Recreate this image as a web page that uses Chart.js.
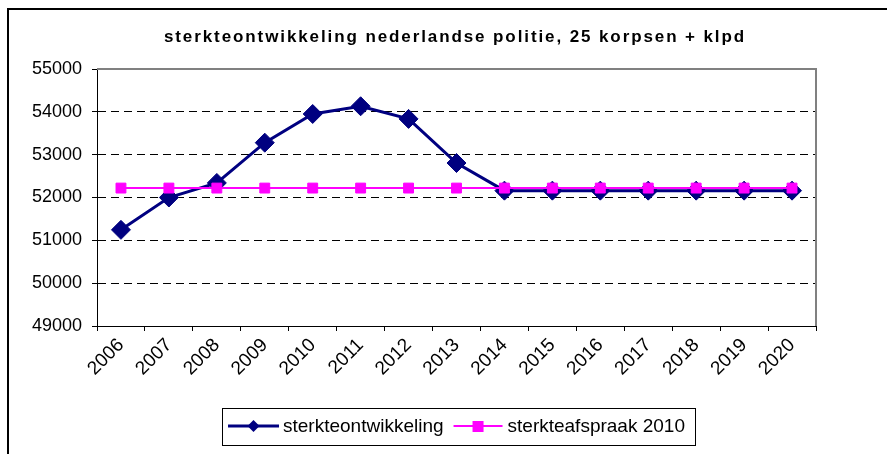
<!DOCTYPE html>
<html>
<head>
<meta charset="utf-8">
<script src="https://cdn.jsdelivr.net/npm/chart.js@4.4.1/dist/chart.umd.min.js"></script>
<style>
  html, body { margin: 0; padding: 0; background: #fff; }
  #wrap { position: relative; width: 887px; height: 454px; overflow: hidden; }
  #frame { position: absolute; left: 7px; top: 8px; width: 920px; height: 500px;
           border-left: 2px solid #000; border-top: 2px solid #000; }
  canvas { position: absolute; left: 0; top: 0; }
</style>
</head>
<body>
<div id="wrap">
  <div id="frame"></div>
  <canvas id="sterkteChart" width="887" height="454"></canvas>
</div>
<script>
// jaren (categorieën)
const jaren = ['2006', '2007', '2008', '2009', '2010', '2011', '2012', '2013',
               '2014', '2015', '2016', '2017', '2018', '2019', '2020'];
// sterkteontwikkeling
const sterkteontwikkeling = [51245, 52000, 52340, 53280, 53950, 54130, 53835, 52805,
                             52160, 52160, 52160, 52160, 52160, 52160, 52160];
// sterkteafspraak 2010
const sterkteafspraak = [52220, 52220, 52220, 52220, 52220, 52220, 52220, 52220,
                         52220, 52220, 52220, 52220, 52220, 52220, 52220];
const yTicks = [49000, 50000, 51000, 52000, 53000, 54000, 55000];

const titel = 'sterkteontwikkeling nederlandse politie, 25 korpsen + klpd';
const legendaLabels = ['sterkteontwikkeling', 'sterkteafspraak 2010'];

const navy = '#000080';
const magenta = '#FF00FF';
const fontFamily = '"Liberation Sans", Arial, sans-serif';

// titel, plotrand en legenda tekenen
const extras = {
    id: 'extras',
    beforeDatasetsDraw(chart) {
        const { ctx, chartArea: a } = chart;
        ctx.save();
        ctx.strokeStyle = '#808080';
        ctx.lineWidth = 2;
        ctx.beginPath();
        ctx.moveTo(a.left, a.top);
        ctx.lineTo(a.right, a.top);
        ctx.lineTo(a.right, a.bottom);
        ctx.stroke();
        ctx.restore();
    },
    afterDraw(chart) {
        const ctx = chart.ctx;
        ctx.save();
        // titel
        ctx.font = 'bold 17px ' + fontFamily;
        ctx.letterSpacing = '1.9px';
        ctx.fillStyle = '#000';
        ctx.textAlign = 'center';
        ctx.textBaseline = 'alphabetic';
        ctx.fillText(titel, 455, 42);
        ctx.letterSpacing = '0px';

        // legenda
        ctx.font = '19px ' + fontFamily;
        const w1 = ctx.measureText(legendaLabels[0]).width;
        const w2 = ctx.measureText(legendaLabels[1]).width;
        const total = 6 + 51 + 4 + w1 + 10 + 49 + 5 + w2 + 10;
        const left = 458.5 - total / 2;
        const top = 408, bottom = 445, cy = 426;
        ctx.strokeStyle = '#000';
        ctx.lineWidth = 1;
        ctx.strokeRect(Math.round(left) + 0.5, top + 0.5, Math.round(total), bottom - top);

        let x = left + 6;
        // symbool 1: lijn met ruit
        ctx.strokeStyle = navy;
        ctx.lineWidth = 3;
        ctx.beginPath(); ctx.moveTo(x, cy); ctx.lineTo(x + 51, cy); ctx.stroke();
        ctx.fillStyle = navy;
        ctx.beginPath();
        ctx.moveTo(x + 25.5, cy - 6); ctx.lineTo(x + 31.5, cy);
        ctx.lineTo(x + 25.5, cy + 6); ctx.lineTo(x + 19.5, cy);
        ctx.closePath(); ctx.fill();
        x += 55;
        ctx.fillStyle = '#000';
        ctx.textAlign = 'left';
        ctx.textBaseline = 'middle';
        ctx.fillText(legendaLabels[0], x, cy + 1);
        x += w1 + 10;
        // symbool 2: lijn met vierkant
        ctx.strokeStyle = magenta;
        ctx.lineWidth = 2;
        ctx.beginPath(); ctx.moveTo(x, cy); ctx.lineTo(x + 49, cy); ctx.stroke();
        ctx.fillStyle = magenta;
        ctx.fillRect(x + 19, cy - 5, 11, 11);
        x += 54;
        ctx.fillStyle = '#000';
        ctx.fillText(legendaLabels[1], x, cy + 1);
        ctx.restore();
    }
};

const ctx = document.getElementById('sterkteChart').getContext('2d');
const chart = new Chart(ctx, {
    type: 'line',
    data: {
        labels: jaren,
        datasets: [{
            label: legendaLabels[0],
            data: sterkteontwikkeling,
            borderColor: navy,
            backgroundColor: navy,
            borderWidth: 3,
            pointStyle: 'rectRot',
            pointRadius: 9.5,
            pointBorderWidth: 1,
            pointBorderColor: navy,
            pointBackgroundColor: navy,
            tension: 0,
            fill: false,
            order: 1
        }, {
            label: legendaLabels[1],
            data: sterkteafspraak,
            borderColor: magenta,
            backgroundColor: magenta,
            borderWidth: 2,
            pointStyle: 'rect',
            pointRadius: 7,
            pointBorderWidth: 1,
            pointBorderColor: magenta,
            pointBackgroundColor: magenta,
            tension: 0,
            fill: false,
            order: 0
        }]
    },
    options: {
        responsive: false,
        animation: false,
        layout: { padding: { top: 69, right: 71, left: 0, bottom: 0 } },
        plugins: {
            legend: { display: false },
            title: { display: false },
            tooltip: { enabled: false }
        },
        scales: {
            x: {
                offset: true,
                afterFit: (scale) => { scale.height = 128; },
                grid: {
                    offset: true,
                    drawOnChartArea: false,
                    drawTicks: true,
                    tickLength: 5,
                    tickColor: '#000'
                },
                border: { display: true, color: '#000', width: 1 },
                ticks: {
                    color: '#000',
                    font: { family: fontFamily, size: 19 },
                    minRotation: 45,
                    maxRotation: 45,
                    padding: 3,
                    autoSkip: false
                }
            },
            y: {
                min: 49000,
                max: 55000,
                afterFit: (scale) => { scale.width = 97; },
                afterBuildTicks: (scale) => { scale.ticks = yTicks.map(v => ({ value: v })); },
                grid: {
                    color: (c) => (c.tick && c.tick.value === 55000) ? 'rgba(0,0,0,0)' : '#000',
                    lineWidth: 1,
                    tickBorderDash: [],
                    tickLength: 5,
                    tickColor: '#000'
                },
                border: { display: true, color: '#000', width: 1, dash: [8, 5] },
                ticks: {
                    color: '#000',
                    font: { family: fontFamily, size: 18 },
                    padding: 10,
                    callback: (v) => String(v)
                }
            }
        }
    },
    plugins: [extras]
});
</script>
</body>
</html>
